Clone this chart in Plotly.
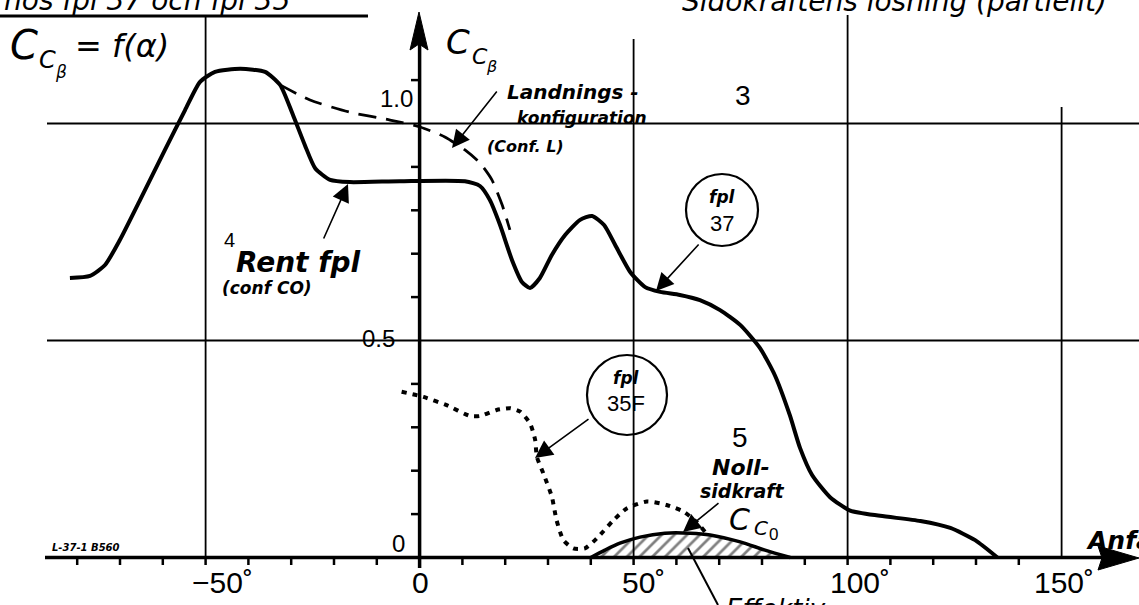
import plotly.graph_objects as go

# ---------------- data ----------------
# Rent fpl (conf CO) - solid curve, fpl 37
rent_x = [-81.7, -77.0, -73.5, -70.0, -65.3, -59.5, -54.8, -51.3, -47.8, -41.9, -36.1, -32.6,
          -29.6, -26.8, -24.4, -20.9, -16.3, -4.6, 10.6, 14.1, 16.4, 18.8, 21.6, 23.9, 25.8,
          28.1, 30.9, 34.0, 37.5, 40.3, 43.1, 45.7, 49.2, 52.7, 56.2, 60.8, 65.5, 70.2, 74.9,
          79.5, 83.0, 86.5, 88.9, 91.7, 95.9, 100.6, 107.6, 117.0, 124.0, 129.8, 135.0]
rent_y = [0.644, 0.649, 0.674, 0.732, 0.824, 0.939, 1.031, 1.096, 1.119, 1.126, 1.119, 1.089,
          1.020, 0.950, 0.897, 0.870, 0.865, 0.867, 0.867, 0.856, 0.824, 0.766, 0.685, 0.635, 0.621,
          0.644, 0.697, 0.743, 0.778, 0.787, 0.766, 0.720, 0.658, 0.623, 0.612, 0.605, 0.593, 0.570, 0.536,
          0.483, 0.420, 0.328, 0.252, 0.190, 0.139, 0.108, 0.096, 0.084, 0.068, 0.040, 0.0]

# Landningskonfiguration (Conf. L) - dashed curve
land_x = [-32.6, -25.6, -16.3, -6.9, 0.1, 5.9, 10.6, 14.1, 16.9, 19.3, 21.1]
land_y = [1.089, 1.054, 1.026, 1.008, 0.992, 0.969, 0.939, 0.909, 0.870, 0.812, 0.755]

# fpl 35F - dotted curve
f35_x = [-4.2, 0.9, 6.3, 11.8, 14.1, 18.0, 21.1, 23.5, 25.8, 27.0, 27.4, 28.9, 30.9, 32.0,
         33.6, 35.9, 38.6, 41.4, 45.3, 48.4, 53.1, 57.7, 61.6, 64.7, 66.7]
f35_y = [0.382, 0.370, 0.351, 0.326, 0.326, 0.340, 0.344, 0.336, 0.309, 0.271, 0.232, 0.194,
         0.140, 0.086, 0.040, 0.021, 0.021, 0.044, 0.086, 0.113, 0.129, 0.121, 0.106, 0.082, 0.059]

# Nollsidkraft C_C0 - hatched area
noll_x = [40.0, 43.3, 46.8, 51.5, 57.3, 63.2, 67.9, 74.9, 80.7, 86.6]
noll_y = [0.0, 0.017, 0.033, 0.047, 0.056, 0.056, 0.052, 0.036, 0.017, 0.0]

x_tick_vals = [-50, 0, 50, 100, 150]
x_tick_text = ["−50˚", "0", "50˚", "100˚", "150˚"]
x_grid_vals = [-50, 50, 100, 150]
x_minor_vals = [v for v in range(-80, 150, 10)]
y_tick_vals = [1.0, 0.5, 0.0]
y_tick_text = ["1.0", "0.5", "0"]
y_minor_vals = [0.1, 0.2, 0.3, 0.4, 0.6, 0.7, 0.8, 0.9, 1.1]

# ---------------- pixel <-> data helpers (layout only) ----------------
W, H = 1139, 605
X0_PX, X_SCALE = 419.6, 4.28
Y0_PX, Y_SCALE = 557.5, 434.0


def dx(px):
    return (px - X0_PX) / X_SCALE


def dy(py):
    return (Y0_PX - py) / Y_SCALE


xr = [dx(0), dx(W)]
yr = [dy(H), dy(0)]

fig = go.Figure()

fig.add_trace(go.Scatter(x=rent_x, y=rent_y, mode="lines",
                         line=dict(color="black", width=4, shape="spline", smoothing=0.6),
                         hoverinfo="skip"))
fig.add_trace(go.Scatter(x=land_x, y=land_y, mode="lines",
                         line=dict(color="black", width=2.8, dash="18px,10px", shape="spline", smoothing=0.6),
                         hoverinfo="skip"))
fig.add_trace(go.Scatter(x=f35_x, y=f35_y, mode="lines",
                         line=dict(color="black", width=4, dash="5px,6px", shape="spline", smoothing=0.6),
                         hoverinfo="skip"))
fig.add_trace(go.Scatter(x=noll_x, y=noll_y, mode="lines", fill="tozeroy",
                         fillpattern=dict(shape="/", fgcolor="black", bgcolor="white", size=9, solidity=0.3),
                         line=dict(color="black", width=3.5, shape="spline", smoothing=0.8),
                         hoverinfo="skip"))

shapes = []
# horizontal grid lines at 1.0 and 0.5
for yv in [1.0, 0.5]:
    shapes.append(dict(type="line", x0=dx(47), x1=dx(W), y0=yv, y1=yv,
                       line=dict(color="black", width=2.2)))
# vertical grid lines with their tops
grid_tops = {-50: 17, 50: 39, 100: 15, 150: 107}
for xv in x_grid_vals:
    shapes.append(dict(type="line", x0=xv, x1=xv, y0=0, y1=dy(grid_tops[xv]),
                       line=dict(color="black", width=1.8)))
# x axis
shapes.append(dict(type="line", x0=dx(45), x1=dx(1105), y0=0, y1=0, line=dict(color="black", width=3.5)))
# y axis
shapes.append(dict(type="line", x0=0, x1=0, y0=dy(568), y1=dy(40), line=dict(color="black", width=3.5)))
# x minor ticks
for xv in x_minor_vals:
    shapes.append(dict(type="line", x0=xv, x1=xv, y0=0, y1=dy(565), line=dict(color="black", width=2.5)))
# y minor ticks
for yv in y_minor_vals:
    shapes.append(dict(type="line", x0=dx(411), x1=0, y0=yv, y1=yv, line=dict(color="black", width=2.5)))
# arrowheads of axes
shapes.append(dict(type="path",
                   path=f"M {dx(1139)},{dy(558)} L {dx(1098)},{dy(546)} L {dx(1102)},{dy(558)} L {dx(1098)},{dy(570)} Z",
                   fillcolor="black", line=dict(color="black", width=1)))
shapes.append(dict(type="path",
                   path=f"M {dx(419)},{dy(12)} L {dx(410)},{dy(50)} L {dx(419)},{dy(44)} L {dx(428)},{dy(50)} Z",
                   fillcolor="black", line=dict(color="black", width=1)))
# title underline
shapes.append(dict(type="line", x0=dx(0), x1=dx(368), y0=dy(16), y1=dy(16), line=dict(color="black", width=3)))
# circles
for cx, cy, r in [(722, 210, 36), (627, 395, 40)]:
    shapes.append(dict(type="circle", xref="x", yref="y", xsizemode="pixel", ysizemode="pixel",
                       xanchor=dx(cx), yanchor=dy(cy), x0=-r, x1=r, y0=-r, y1=r,
                       line=dict(color="black", width=2.2)))
# pointer line to bottom text
shapes.append(dict(type="line", x0=dx(688), x1=dx(718), y0=dy(548), y1=dy(605),
                   line=dict(color="black", width=2)))

ann = []
HAND = "DejaVu Sans"


def text(px, py, s, size, italic=True, xanchor="left", bold=False, family=HAND, yanchor="middle"):
    ann.append(dict(x=dx(px), y=dy(py), text=s, showarrow=False, xanchor=xanchor, yanchor=yanchor,
                    font=dict(family=family, size=size, color="black",
                              style="italic" if italic else "normal",
                              weight="bold" if bold else "normal")))


def arrow(tail, tip):
    ann.append(dict(x=dx(tip[0]), y=dy(tip[1]), ax=tail[0] - tip[0], ay=tail[1] - tip[1],
                    text="", showarrow=True, arrowhead=2, arrowsize=2.2, arrowwidth=1.6,
                    arrowcolor="black"))


# tick labels
x_tick_px = {-50: 222, 0: 420, 50: 643, 100: 860, 150: 1064}
for v, t in zip(x_tick_vals, x_tick_text):
    text(x_tick_px[v], 582, t, 30, italic=False, xanchor="center", family="Liberation Sans")
text(396, 98, "1.0", 24, italic=False, xanchor="center", family="Liberation Sans")
text(378, 338, "0.5", 24, italic=False, xanchor="center", family="Liberation Sans")
text(398, 543, "0", 24, italic=False, xanchor="center", family="Liberation Sans")

# cut title at top
text(2, 0.5, "hos fpl 37 och fpl 35", 28, italic=True)
text(680, 1, "Sidokraftens lösning (partiellt)", 28, italic=True)

# function label
text(8, 45, "C", 40, italic=True)
text(37, 60, "C", 24, italic=True)
text(53, 72, "β", 17, italic=True)
text(73, 46, "= f(α)", 32, italic=True)

# y axis title
text(444, 42, "C", 34, italic=True)
text(470, 56, "C", 22, italic=True)
text(484, 66, "β", 16, italic=True)

# Landnings-konfiguration
text(505, 92, "Landnings -", 20, bold=True)
text(515, 118, "konfiguration", 17, bold=True)
text(485, 146, "(Conf. L)", 16, bold=True)
text(733, 95, "3", 28, italic=False, family="Liberation Sans")
arrow((498, 90), (452, 148))

# Rent fpl
text(222, 240, "4", 20, italic=False, family="Liberation Sans")
text(234, 262, "Rent fpl", 28, bold=True)
text(220, 288, "(conf CO)", 17, bold=True)
arrow((323, 240), (348, 184))

# fpl 37
text(722, 197, "fpl", 17, xanchor="center", bold=True)
text(722, 223, "37", 22, italic=False, xanchor="center", family="Liberation Sans")
arrow((700, 243), (656, 291))

# fpl 35F
text(626, 378, "fpl", 17, xanchor="center", bold=True)
text(626, 403, "35F", 22, italic=False, xanchor="center", family="Liberation Sans")
arrow((590, 418), (535, 458))

# Nollsidkraft
text(740, 437, "5", 28, italic=False, xanchor="center", family="Liberation Sans")
text(710, 467, "Noll-", 22, bold=True)
text(698, 491, "sidkraft", 19, bold=True)
text(727, 519, "C", 30, italic=True)
text(752, 528, "C", 20, italic=True)
text(767, 534, "0", 17, italic=False, family="Liberation Sans")
arrow((720, 502), (683, 532))

# bottom / right cut texts
text(724, 592, "Effektiv", 26, bold=False, yanchor="top")
text(1084, 540, "Anfallsvinkel α", 25, bold=True)
text(50, 547, "L-37-1 B560", 10, bold=True)

fig.update_layout(
    width=W, height=H,
    margin=dict(l=0, r=0, t=0, b=0, pad=0, autoexpand=False),
    paper_bgcolor="white", plot_bgcolor="white",
    showlegend=False,
    xaxis=dict(range=xr, visible=False, fixedrange=True),
    yaxis=dict(range=yr, visible=False, fixedrange=True),
    shapes=shapes,
    annotations=ann,
)

fig.write_html("out.html", config={"displayModeBar": False},
               post_script="document.body.style.margin='0';document.body.style.overflow='hidden';")
